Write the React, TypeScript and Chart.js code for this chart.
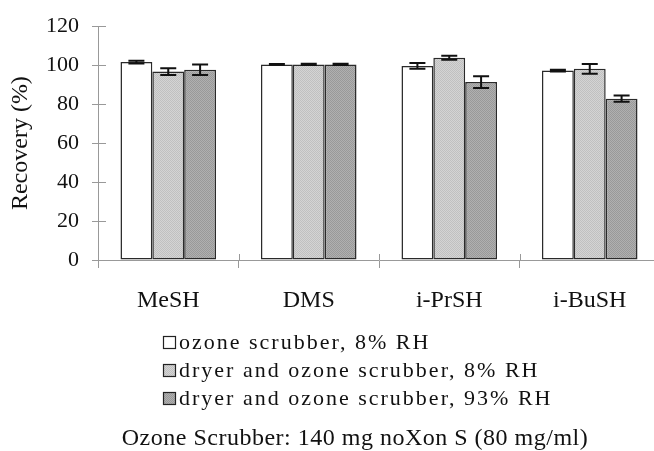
import React, { useEffect, useRef } from "react";
import { Chart, registerables } from "chart.js";

Chart.register(...registerables);

const categories = ["MeSH", "DMS", "i-PrSH", "i-BuSH"];
const seriesLabels = [
  "ozone scrubber, 8% RH",
  "dryer and ozone scrubber, 8% RH",
  "dryer and ozone scrubber, 93% RH",
];
const ozoneDry = [101.6, 100.4, 99.6, 97.2];
const dryerDry = [96.7, 100.4, 103.8, 98.1];
const dryerHumid = [97.6, 100.4, 91.3, 82.8];
const errOzoneDry = [0.7, 0.2, 1.5, 0.4];
const errDryerDry = [1.7, 0.3, 1.0, 2.5];
const errDryerHumid = [2.7, 0.3, 3.0, 1.6];
const yTicks = [0, 20, 40, 60, 80, 100, 120];
const caption = "Ozone Scrubber: 140 mg noXon S (80 mg/ml)";

const FONT = '"Liberation Serif", "Times New Roman", serif';

function makePattern(a: string, b: string): CanvasPattern | string {
  const c = document.createElement("canvas");
  c.width = 2;
  c.height = 2;
  const g = c.getContext("2d");
  if (!g) return a;
  g.fillStyle = a;
  g.fillRect(0, 0, 2, 2);
  g.fillStyle = b;
  g.fillRect(0, 0, 1, 1);
  g.fillRect(1, 1, 1, 1);
  const p = g.createPattern(c, "repeat");
  return p || a;
}

export default function App() {
  const ref = useRef<HTMLCanvasElement | null>(null);

  useEffect(() => {
    const canvas = ref.current;
    if (!canvas) return;
    const errors = [errOzoneDry, errDryerDry, errDryerHumid];
    const fills = [
      "#ffffff",
      makePattern("#d4d4d4", "#c0c0c0"),
      makePattern("#b0b0b0", "#999999"),
    ];

    const errorBars = {
      id: "errorBars",
      afterDatasetsDraw(chart: any) {
        const ctx = chart.ctx;
        const y = chart.scales.y;
        ctx.save();
        ctx.strokeStyle = "#111";
        ctx.lineWidth = 2;
        chart.data.datasets.forEach((ds: any, i: number) => {
          const meta = chart.getDatasetMeta(i);
          meta.data.forEach((el: any, j: number) => {
            const v = ds.data[j];
            const e = errors[i][j];
            const x = el.x;
            const t = y.getPixelForValue(v + e);
            const b = y.getPixelForValue(v - e);
            const cap = 8;
            ctx.beginPath();
            ctx.moveTo(x, t);
            ctx.lineTo(x, b);
            ctx.moveTo(x - cap, t);
            ctx.lineTo(x + cap, t);
            ctx.moveTo(x - cap, b);
            ctx.lineTo(x + cap, b);
            ctx.stroke();
          });
        });
        ctx.restore();
      },
    };

    const extras = {
      id: "extras",
      afterDraw(chart: any) {
        const ctx = chart.ctx;
        const area = chart.chartArea;
        const y = chart.scales.y;
        ctx.save();
        // inner parts of the crossing ticks
        ctx.strokeStyle = "#999";
        ctx.lineWidth = 1;
        ctx.beginPath();
        yTicks.forEach((v) => {
          const py = Math.round(y.getPixelForValue(v)) + 0.5;
          ctx.moveTo(area.left, py);
          ctx.lineTo(area.left + 8, py);
        });
        const n = categories.length;
        const w = (area.right - area.left) / n;
        for (let k = 1; k < n; k++) {
          const px = Math.round(area.left + k * w) + 0.5;
          ctx.moveTo(px, area.bottom);
          ctx.lineTo(px, area.bottom - 6);
        }
        ctx.stroke();
        // legend
        ctx.font = "22px " + FONT;
        (ctx as any).letterSpacing = "2px";
        ctx.textBaseline = "middle";
        ctx.textAlign = "left";
        const rows = [342, 370, 398];
        chart.data.datasets.forEach((ds: any, i: number) => {
          const cy = rows[i];
          ctx.fillStyle = ds.backgroundColor;
          ctx.fillRect(163, cy - 6, 13, 13);
          ctx.strokeStyle = "#222";
          ctx.lineWidth = 1.2;
          ctx.strokeRect(163.5, cy - 5.5, 12, 12);
          ctx.fillStyle = "#111";
          ctx.fillText(ds.label, 179, cy + 1);
        });
        // caption
        (ctx as any).letterSpacing = "0.5px";
        ctx.textAlign = "center";
        ctx.font = "24px " + FONT;
        ctx.fillText(caption, 355, 439);
        ctx.restore();
      },
    };

    const chart = new Chart(canvas, {
      type: "bar",
      data: {
        labels: categories,
        datasets: [
          { label: seriesLabels[0], data: ozoneDry, backgroundColor: fills[0] },
          { label: seriesLabels[1], data: dryerDry, backgroundColor: fills[1] },
          { label: seriesLabels[2], data: dryerHumid, backgroundColor: fills[2] },
        ].map((d) => ({
          ...d,
          borderColor: "#2a2a2a",
          borderWidth: 1.5,
          borderSkipped: false,
          categoryPercentage: 0.68,
          barPercentage: 1.0,
        })) as any,
      },
      options: {
        animation: false,
        responsive: false,
        devicePixelRatio: 1,
        layout: { padding: { top: 23, left: 0, right: 4, bottom: 0 } },
        plugins: { legend: { display: false }, tooltip: { enabled: false } },
        scales: {
          x: {
            grid: {
              drawOnChartArea: false,
              offset: true,
              tickLength: 8,
              color: "#999",
            },
            border: { color: "#999", width: 1 },
            ticks: {
              color: "#111",
              padding: 18,
              font: { family: FONT, size: 24 },
              maxRotation: 0,
            },
            afterFit(scale: any) {
              scale.height = 191;
            },
          },
          y: {
            min: 0,
            max: 120,
            ticks: {
              stepSize: 20,
              color: "#111",
              padding: 13,
              font: { family: FONT, size: 22 },
            },
            grid: { drawOnChartArea: false, tickLength: 6, color: "#999" },
            border: { color: "#999", width: 1 },
            title: {
              display: true,
              text: "Recovery (%)",
              color: "#111",
              font: { family: FONT, size: 24 },
              padding: { top: 6, bottom: 0 },
            },
            afterFit(scale: any) {
              scale.width = 98;
            },
          },
        },
      },
      plugins: [errorBars, extras],
    });
    return () => chart.destroy();
  }, []);

  return (
    <div
      style={{
        position: "fixed",
        left: 0,
        top: 0,
        width: 654,
        height: 451,
        overflow: "hidden",
        background: "#fff",
      }}
    >
      <canvas ref={ref} width={664} height={451} style={{ display: "block" }} />
    </div>
  );
}
